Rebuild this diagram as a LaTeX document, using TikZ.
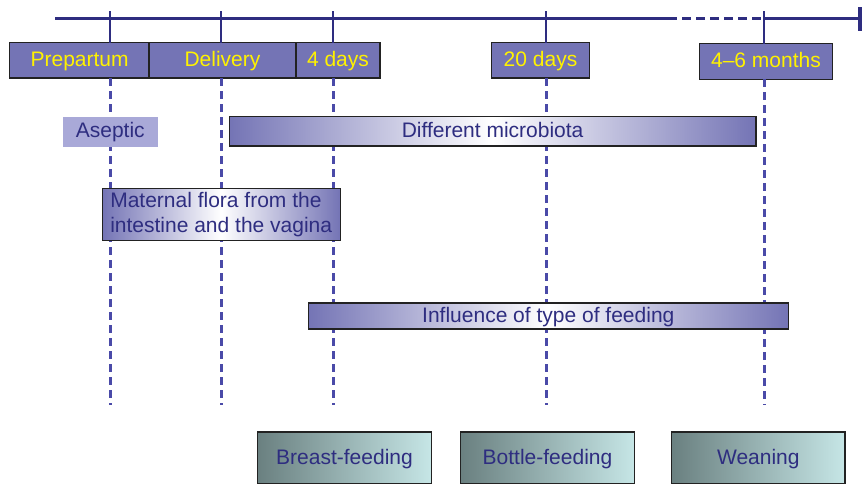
\documentclass[tikz,border=0pt]{standalone}
\usepackage{fontspec}
\setmainfont{Liberation Sans}
\definecolor{navy}{HTML}{2E2D80}
\definecolor{purp}{HTML}{7474B5}
\definecolor{lpurp}{HTML}{A9A9D8}
\definecolor{ylw}{HTML}{FFF200}
\definecolor{dashc}{HTML}{4A4AA8}
\definecolor{edge}{HTML}{222222}
\definecolor{tealL}{HTML}{6A8080}
\definecolor{tealR}{HTML}{C6E6E6}
\tikzset{
  lbl/.style={font=\fontsize{21}{25}\selectfont, inner sep=0pt, outer sep=0pt},
  oneline/.style={text height=16pt, text depth=3.5pt},
  topbox/.style={lbl, oneline, draw=edge, line width=1.2pt, fill=purp, text=ylw, minimum height=35.5pt},
  midbox/.style={lbl, draw=edge, line width=1.2pt, text=navy, left color=purp, right color=purp, middle color=white},
  botbox/.style={lbl, oneline, draw=edge, line width=1.2pt, text=navy, left color=tealL, right color=tealR, minimum width=174pt, minimum height=52pt},
  axis/.style={draw=navy, line width=3pt},
  tick/.style={draw=navy, line width=2.5pt},
  guide/.style={draw=dashc, line width=3pt, dash pattern=on 8pt off 5pt},
}
\begin{document}
\begin{tikzpicture}[x=1pt, y=-1pt]
\useasboundingbox (0,0) rectangle (862,483);
\clip (0,0) rectangle (862,483);
% axis
\coordinate (a0) at (55,18);
\coordinate (a1) at (668,18);
\coordinate (a2) at (764,18);
\coordinate (a3) at (858,18);
\draw[axis] (a0) -- (a1);
\draw[axis, dash pattern=on 9pt off 5pt] (a1) -- (a2);
\draw[axis] (a2) -- (a3);
\fill[navy] (857.5,7) rectangle (862,31);
% top boxes
\node[topbox, minimum width=140.7pt] (prep) at (79.6,60.3) {Prepartum};
\node[topbox, minimum width=147pt] (deliv) at (222.5,60.3) {Delivery};
\node[topbox, minimum width=84pt] (four) at (338,60.3) {4 days};
\node[topbox, minimum width=97.6pt] (twenty) at (540.5,60.3) {20 days};
\node[topbox, minimum width=132.3pt] (months) at (766,61.6) {4–6 months};
% tick coordinates
\coordinate (t1) at (110,11);  \coordinate (b1) at (110,405);
\coordinate (t2) at (221,11);  \coordinate (b2) at (221,405);
\coordinate (t3) at (333,11);  \coordinate (b3) at (333,405);
\coordinate (t4) at (546,11);  \coordinate (b4) at (546,405);
\coordinate (t5) at (764,11);  \coordinate (b5) at (764,405);
\draw[tick] (t1) -- (t1 |- prep.north);
\draw[tick] (t2) -- (t2 |- deliv.north);
\draw[tick] (t3) -- (t3 |- four.north);
\draw[tick] (t4) -- (t4 |- twenty.north);
\draw[tick] (t5) -- (t5 |- months.north);
\draw[guide] (t1 |- prep.south) -- (b1);
\draw[guide] (t2 |- deliv.south) -- (b2);
\draw[guide] (t3 |- four.south) -- (b3);
\draw[guide] (t4 |- twenty.south) -- (b4);
\draw[guide] (t5 |- months.south) -- (b5);
% middle boxes
\node[lbl, oneline, fill=lpurp, text=navy, minimum width=94.7pt, minimum height=30pt] (asep) at (110.3,131.7) {Aseptic};
\node[midbox, oneline, minimum width=526.7pt, minimum height=29.3pt] (micro) at (492.6,131.3) {Different microbiota};
\node[midbox, align=left, inner xsep=8pt, minimum height=52pt] (mat) at (221.2,214.3) {\rule{0pt}{16pt}Maternal flora from the\\intestine and the vagina};
\node[midbox, oneline, minimum width=480pt, minimum height=26pt] (infl) at (548.3,316) {Influence of type of feeding};
% bottom boxes
\node[botbox] (breast) at (344.5,458) {Breast-feeding};
\node[botbox] (bottle) at (547.5,458) {Bottle-feeding};
\node[botbox, minimum width=173.3pt] (wean) at (758.3,458) {Weaning};
\end{tikzpicture}
\end{document}
